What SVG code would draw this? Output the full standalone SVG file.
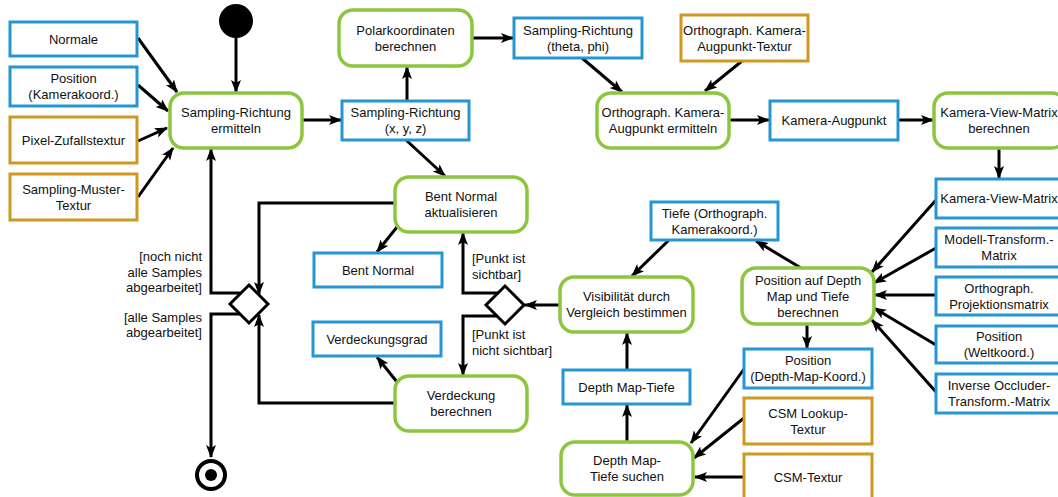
<svg xmlns="http://www.w3.org/2000/svg" width="1058" height="497" viewBox="0 0 1058 497">
  <defs>
    <style>
      text { font-family: "Liberation Sans", Arial, sans-serif; font-size: 13px; fill: #111; }
      .c { text-anchor: middle; }
      .r { text-anchor: end; }
      .data { fill: #fff; stroke: #2596d1; stroke-width: 3; }
      .tex { fill: #fff; stroke: #cf9820; stroke-width: 3; }
      .act { fill: #fff; stroke: #8cc63f; stroke-width: 3.5; }
      .dec { fill: #fff; stroke: #000; stroke-width: 3; }
      .edge { fill: none; stroke: #000; stroke-width: 3; marker-end: url(#arrow); }
    </style>
    <marker id="arrow" markerUnits="userSpaceOnUse" markerWidth="14" markerHeight="12" refX="12" refY="5" orient="auto">
      <path d="M0,0 L13,5 L0,10 L3,5 z" fill="#000"/>
    </marker>
  </defs>

  <rect width="1058" height="497" fill="#fff"/>

  <!-- connectors -->
  <g id="connectors">
    <line class="edge" x1="138" y1="38" x2="177" y2="92"/>
    <line class="edge" x1="138" y1="85" x2="168" y2="111"/>
    <line class="edge" x1="138" y1="141" x2="167" y2="128"/>
    <line class="edge" x1="138" y1="197" x2="173" y2="148"/>
    <line class="edge" x1="236" y1="38" x2="236" y2="92"/>
    <line class="edge" x1="302" y1="120" x2="341" y2="120"/>
    <line class="edge" x1="407" y1="101" x2="407" y2="67"/>
    <line class="edge" x1="472" y1="38" x2="513" y2="38"/>
    <line class="edge" x1="582" y1="58" x2="622" y2="92"/>
    <line class="edge" x1="742" y1="61" x2="705" y2="91"/>
    <line class="edge" x1="729" y1="120" x2="769" y2="120"/>
    <line class="edge" x1="898" y1="120" x2="933" y2="120"/>
    <line class="edge" x1="999" y1="148" x2="999" y2="178"/>
    <line class="edge" x1="936" y1="200" x2="872" y2="272"/>
    <line class="edge" x1="936" y1="248" x2="874" y2="283"/>
    <line class="edge" x1="936" y1="295" x2="875" y2="295"/>
    <line class="edge" x1="936" y1="345" x2="874" y2="308"/>
    <line class="edge" x1="936" y1="392" x2="872" y2="320"/>
    <line class="edge" x1="801" y1="268" x2="756" y2="241"/>
    <line class="edge" x1="807" y1="324" x2="807" y2="348"/>
    <line class="edge" x1="744" y1="369" x2="691" y2="443"/>
    <line class="edge" x1="744" y1="418" x2="694" y2="458"/>
    <line class="edge" x1="744" y1="477" x2="695" y2="477"/>
    <line class="edge" x1="627" y1="442" x2="627" y2="405"/>
    <line class="edge" x1="627" y1="370" x2="627" y2="333"/>
    <line class="edge" x1="669" y1="240" x2="632" y2="276"/>
    <line class="edge" x1="560" y1="305" x2="525" y2="305"/>
    <polyline class="edge" points="498,293 463,293 463,233"/>
    <polyline class="edge" points="498,316 463,316 463,375"/>
    <line class="edge" x1="406" y1="140" x2="445" y2="176"/>
    <line class="edge" x1="397" y1="227" x2="377" y2="252"/>
    <line class="edge" x1="397" y1="382" x2="377" y2="357"/>
    <polyline class="edge" points="395,203 259,203 259,294"/>
    <polyline class="edge" points="395,403 259,403 259,315"/>
    <polyline class="edge" points="241,293 211,293 211,149"/>
    <polyline class="edge" points="241,314 211,314 211,457"/>
  </g>

  <!-- guard labels -->
  <g id="guards">
    <text class="r" x="202" y="261">[noch nicht</text>
    <text class="r" x="202" y="277">alle Samples</text>
    <text class="r" x="202" y="292">abgearbeitet]</text>
    <text class="r" x="202" y="322">[alle Samples</text>
    <text class="r" x="202" y="337">abgearbeitet]</text>
    <text x="472" y="263">[Punkt ist</text>
    <text x="472" y="279">sichtbar]</text>
    <text x="472" y="339">[Punkt ist</text>
    <text x="472" y="355">nicht sichtbar]</text>
  </g>

  <g id="start"><circle cx="236" cy="21" r="17" fill="#000"/></g>
  <g id="end">
    <circle cx="211" cy="475" r="14" fill="#fff" stroke="#000" stroke-width="4"/>
    <circle cx="211" cy="475" r="6" fill="#000"/>
  </g>

  <g id="normale"><rect class="data" x="10" y="22" width="127" height="34"/><text class="c" x="73.5" y="43.5">Normale</text></g>
  <g id="position-kamera"><rect class="data" x="10" y="67" width="127" height="39"/><text class="c" x="73.5" y="83">Position</text><text class="c" x="73.5" y="99">(Kamerakoord.)</text></g>
  <g id="pixel-zufallstextur"><rect class="tex" x="10" y="117" width="127" height="46"/><text class="c" x="73.5" y="144.5">Pixel-Zufallstextur</text></g>
  <g id="sampling-muster-textur"><rect class="tex" x="10" y="174" width="127" height="46"/><text class="c" x="73.5" y="193.5">Sampling-Muster-</text><text class="c" x="73.5" y="209.5">Textur</text></g>

  <g id="sampling-richtung-ermitteln"><rect class="act" x="170" y="93" width="132" height="55" rx="14"/><text class="c" x="236" y="117">Sampling-Richtung</text><text class="c" x="236" y="133">ermitteln</text></g>
  <g id="polarkoordinaten"><rect class="act" x="339" y="10" width="133" height="56" rx="14"/><text class="c" x="405.5" y="34.5">Polarkoordinaten</text><text class="c" x="405.5" y="50.5">berechnen</text></g>
  <g id="sampling-richtung-xyz"><rect class="data" x="342" y="101" width="127" height="39"/><text class="c" x="405.5" y="117">Sampling-Richtung</text><text class="c" x="405.5" y="133">(x, y, z)</text></g>
  <g id="sampling-richtung-theta-phi"><rect class="data" x="514" y="18" width="128" height="40"/><text class="c" x="578" y="34.5">Sampling-Richtung</text><text class="c" x="578" y="50.5">(theta, phi)</text></g>
  <g id="augpunkt-textur"><rect class="tex" x="681" y="15" width="127" height="46"/><text class="c" x="744.5" y="34.5">Orthograph. Kamera-</text><text class="c" x="744.5" y="50.5">Augpunkt-Textur</text></g>
  <g id="augpunkt-ermitteln"><rect class="act" x="597" y="93" width="132" height="55" rx="14"/><text class="c" x="663" y="117">Orthograph. Kamera-</text><text class="c" x="663" y="133">Augpunkt ermitteln</text></g>
  <g id="kamera-augpunkt"><rect class="data" x="770" y="101" width="128" height="39"/><text class="c" x="834" y="125">Kamera-Augpunkt</text></g>
  <g id="view-matrix-berechnen"><rect class="act" x="934" y="93" width="132" height="55" rx="14"/><text class="c" x="999" y="117">Kamera-View-Matrix</text><text class="c" x="999" y="133">berechnen</text></g>

  <g id="kamera-view-matrix"><rect class="data" x="936" y="179" width="128" height="39"/><text class="c" x="999" y="203">Kamera-View-Matrix</text></g>
  <g id="modell-transform-matrix"><rect class="data" x="936" y="228" width="128" height="39"/><text class="c" x="999" y="244">Modell-Transform.-</text><text class="c" x="999" y="260">Matrix</text></g>
  <g id="projektionsmatrix"><rect class="data" x="936" y="277" width="128" height="38"/><text class="c" x="999" y="292.5">Orthograph.</text><text class="c" x="999" y="308.5">Projektionsmatrix</text></g>
  <g id="position-welt"><rect class="data" x="936" y="326" width="128" height="37"/><text class="c" x="999" y="341">Position</text><text class="c" x="999" y="357">(Weltkoord.)</text></g>
  <g id="inverse-occluder-matrix"><rect class="data" x="936" y="374" width="128" height="39"/><text class="c" x="999" y="390">Inverse Occluder-</text><text class="c" x="999" y="406">Transform.-Matrix</text></g>

  <g id="position-depth-map-berechnen"><rect class="act" x="742" y="268" width="132" height="56" rx="14"/><text class="c" x="808" y="284.5">Position auf Depth</text><text class="c" x="808" y="300.5">Map und Tiefe</text><text class="c" x="808" y="316.5">berechnen</text></g>
  <g id="tiefe-ortho"><rect class="data" x="651" y="202" width="127" height="38"/><text class="c" x="714.5" y="217.5">Tiefe (Orthograph.</text><text class="c" x="714.5" y="233.5">Kamerakoord.)</text></g>
  <g id="position-depth-map"><rect class="data" x="744" y="349" width="128" height="39"/><text class="c" x="808" y="365">Position</text><text class="c" x="808" y="381">(Depth-Map-Koord.)</text></g>
  <g id="csm-lookup-textur"><rect class="tex" x="744" y="398" width="128" height="46"/><text class="c" x="808" y="417.5">CSM Lookup-</text><text class="c" x="808" y="433.5">Textur</text></g>
  <g id="csm-textur"><rect class="tex" x="744" y="454" width="128" height="48"/><text class="c" x="808" y="482">CSM-Textur</text></g>

  <g id="visibilitaet"><rect class="act" x="560" y="277" width="133" height="55" rx="14"/><text class="c" x="626.5" y="301">Visibilität durch</text><text class="c" x="626.5" y="317">Vergleich bestimmen</text></g>
  <g id="depth-map-tiefe"><rect class="data" x="563" y="370" width="127" height="34"/><text class="c" x="626.5" y="391.5">Depth Map-Tiefe</text></g>
  <g id="depth-map-tiefe-suchen"><rect class="act" x="561" y="442" width="132" height="53" rx="14"/><text class="c" x="627" y="465">Depth Map-</text><text class="c" x="627" y="481">Tiefe suchen</text></g>

  <g id="bent-normal-aktualisieren"><rect class="act" x="395" y="177" width="132" height="55" rx="14"/><text class="c" x="461" y="201">Bent Normal</text><text class="c" x="461" y="217">aktualisieren</text></g>
  <g id="bent-normal"><rect class="data" x="314" y="253" width="128" height="34"/><text class="c" x="378" y="274.5">Bent Normal</text></g>
  <g id="verdeckungsgrad"><rect class="data" x="313" y="322" width="128" height="34"/><text class="c" x="377" y="343.5">Verdeckungsgrad</text></g>
  <g id="verdeckung-berechnen"><rect class="act" x="395" y="376" width="132" height="55" rx="14"/><text class="c" x="461" y="400">Verdeckung</text><text class="c" x="461" y="416">berechnen</text></g>

  <g id="decision-samples"><path class="dec" d="M249,285 L268,304 L249,323 L230,304 z"/></g>
  <g id="decision-sichtbar"><path class="dec" d="M505,286 L524,305 L505,324 L486,305 z"/></g>
</svg>
